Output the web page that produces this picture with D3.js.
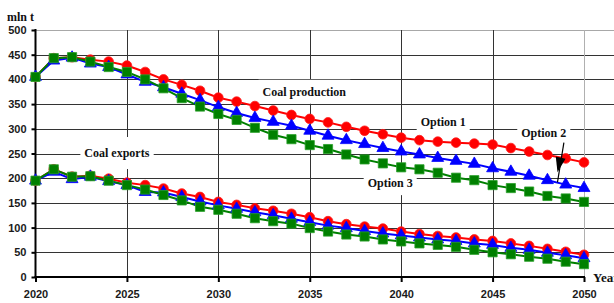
<!DOCTYPE html>
<html><head><meta charset="utf-8">
<script src="https://cdn.jsdelivr.net/npm/d3@7"></script>
<style>html,body{margin:0;padding:0;background:#fff;overflow:hidden}</style>
</head><body>
<svg id="c" width="614" height="303"></svg>
<script>
const years = d3.range(2020, 2051);
const prodOpt1 = [405,443,445,440,436,428,415,400,389,377,363,355,346,337,328,320,313,304,296,289,282,277,274,272,270,268,261,254,247,240,232];
const prodOpt2 = [405,438,444,432,425,410,395,384,371,358,344,332,322,314,306,296,286,277,269,261,254,248,241,235,229,220,213,205,196,187,180];
const prodOpt3 = [405,443,445,436,425,415,400,382,362,345,330,318,302,288,279,267,259,248,238,230,222,218,211,201,196,186,180,173,164,159,152];
const expOpt1 = [195,218,203,205,199,191,186,179,169,162,152,146,139,134,128,121,113,107,102,98,92,87,83,80,76,73,68,63,57,51,45];
const expOpt2 = [195,213,198,203,194,186,172,171,162,153,145,138,131,125,118,111,104,99,93,88,84,80,76,73,68,65,59,55,49,44,38];
const expOpt3 = [195,218,203,204,195,186,177,166,155,142,136,128,119,113,108,99,92,86,82,76,72,68,65,61,55,50,46,41,37,31,26];
const yTicks = [0,50,100,150,200,250,300,350,400,450,500];
const xTicks = [2020,2025,2030,2035,2040,2045,2050];
const yUnit = "mln t";
const xUnit = "Year";
const labels = [
  {text:"Coal production", year:2034.7, value:375},
  {text:"Coal exports", year:2024.45, value:251},
  {text:"Option 1", year:2042.3, value:314},
  {text:"Option 2", year:2047.8, value:291},
  {text:"Option 3", year:2039.4, value:190}
];

const svg = d3.select("#c");
const x = d3.scaleLinear().domain([2020, 2050]).range([35.5, 584]);
const y = d3.scaleLinear().domain([0, 500]).range([277, 30]);
const right = 614;

// grid
const g = svg.append("g");
g.selectAll("line.h").data(yTicks.filter(d => d > 0)).join("line")
  .attr("x1", x(2020)).attr("x2", right)
  .attr("y1", d => Math.round(y(d)) + 0.5).attr("y2", d => Math.round(y(d)) + 0.5)
  .attr("stroke", d => d === 500 ? "#a8a8a8" : "#333").attr("stroke-width", 1);
g.selectAll("line.v").data(xTicks.filter(d => d > 2020)).join("line")
  .attr("x1", d => Math.round(x(d)) + 0.5).attr("x2", d => Math.round(x(d)) + 0.5)
  .attr("y1", y(500)).attr("y2", y(0))
  .attr("stroke", d => d === 2050 ? "#b0b0b0" : "#333").attr("stroke-width", 1);

// label backgrounds (white boxes hiding gridlines)
const tf = "'Liberation Serif','Times New Roman',serif";
const labG = svg.append("g");
labels.forEach(l => {
  const t = labG.append("text").attr("x", x(l.year)).attr("y", y(l.value))
    .attr("text-anchor", "middle").attr("dominant-baseline", "central")
    .attr("font-family", tf).attr("font-weight", "bold").attr("font-size", 12).attr("fill", "#111")
    .text(l.text);
  const b = t.node().getBBox();
  const padX = 4, padY = l.text === "Coal exports" ? 9 : (l.text === "Option 1" ? 2 : 5);
  labG.insert("rect", "text").attr("x", b.x - padX).attr("y", b.y - padY)
    .attr("width", b.width + 2 * padX).attr("height", b.height + 2 * padY).attr("fill", "#fff");
});

// axes
const yAxis = d3.axisLeft(y).tickValues(yTicks).tickSize(4).tickPadding(5);
const ya = svg.append("g").attr("transform", `translate(${x(2020)},0)`).call(yAxis);
const xAxis = d3.axisBottom(x).tickValues(xTicks).tickSize(5).tickPadding(8).tickFormat(d3.format("d"));
const xa = svg.append("g").attr("transform", `translate(0,${y(0)})`).call(xAxis);
[ya, xa].forEach(a => {
  a.select(".domain").remove();
  a.selectAll(".tick line").attr("stroke", "#000").attr("stroke-width", 2);
  a.selectAll(".tick text").attr("font-family", "'Liberation Sans',Arial,sans-serif")
    .attr("font-weight", "bold").attr("font-size", 11).attr("fill", "#1a1a1a");
});
svg.append("line").attr("x1", x(2020)).attr("x2", x(2020)).attr("y1", y(500) - 1).attr("y2", y(0) + 1)
  .attr("stroke", "#000").attr("stroke-width", 2);
svg.append("line").attr("x1", x(2020) - 1).attr("x2", x(2050) + 1).attr("y1", y(0)).attr("y2", y(0))
  .attr("stroke", "#000").attr("stroke-width", 2);

// series
const series = [
  {vals: prodOpt1, color: "#ff0000", stroke: "#ff2020", shape: "circle"},
  {vals: expOpt1, color: "#ff0000", stroke: "#ff2020", shape: "circle"},
  {vals: prodOpt2, color: "#0000ff", stroke: "#0000ff", shape: "triangle"},
  {vals: expOpt2, color: "#0000ff", stroke: "#0000ff", shape: "triangle"},
  {vals: prodOpt3, color: "#008000", stroke: "#2aa02a", shape: "square"},
  {vals: expOpt3, color: "#008000", stroke: "#2aa02a", shape: "square"}
];
const line = d3.line().x((d, i) => x(years[i])).y(d => y(d));
const sym = {circle: d3.symbol().type(d3.symbolCircle).size(74),
             triangle: d3.symbol().type(d3.symbolTriangle).size(62),
             square: d3.symbol().type(d3.symbolSquare).size(84)};
const order = [0, 2, 4, 1, 3, 5];
order.forEach(k => {
  const s = series[k];
  svg.append("path").attr("d", line(s.vals)).attr("fill", "none")
    .attr("stroke", s.color).attr("stroke-width", 2);
});
order.forEach(k => {
  const s = series[k];
  svg.append("g").selectAll("path").data(s.vals).join("path")
    .attr("transform", (d, i) => `translate(${x(years[i])},${y(d)})`)
    .attr("d", sym[s.shape]()).attr("fill", s.color)
    .attr("stroke", s.stroke).attr("stroke-width", 0.8);
});

// arrow from Option 2
const a0 = [x(2048.9), y(272)], a1 = [x(2048.55), y(212)];
svg.append("line").attr("x1", a0[0]).attr("y1", a0[1]).attr("x2", a1[0]).attr("y2", a1[1] + 10)
  .attr("stroke", "#000").attr("stroke-width", 1.2);
{
  const ang = Math.atan2(a1[1] - a0[1], a1[0] - a0[0]);
  const L = 15, W = 5;
  const bx = a1[0] - L * Math.cos(ang), by = a1[1] - L * Math.sin(ang);
  const px = -Math.sin(ang) * W, py = Math.cos(ang) * W;
  svg.append("path").attr("d", `M${a1[0]},${a1[1]}L${bx + px},${by + py}L${bx - px},${by - py}Z`).attr("fill", "#000");
}

// units
svg.append("text").attr("x", 7).attr("y", 17).attr("dominant-baseline", "central")
  .attr("font-family", tf).attr("font-weight", "bold").attr("font-size", 12).attr("fill", "#111").text(yUnit);
svg.append("text").attr("x", 593).attr("y", y(0)).attr("dominant-baseline", "central")
  .attr("font-family", tf).attr("font-weight", "bold").attr("font-size", 13).attr("fill", "#111").text(xUnit);
</script>
</body></html>
